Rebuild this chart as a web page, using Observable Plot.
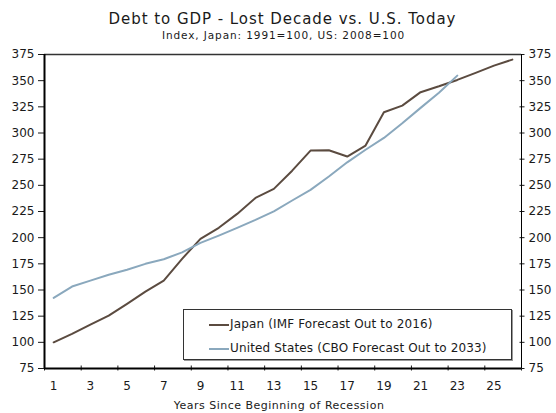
<!DOCTYPE html>
<html><head><meta charset="utf-8">
<script src="https://cdn.jsdelivr.net/npm/d3@7"></script>
<script src="https://cdn.jsdelivr.net/npm/@observablehq/plot@0.6"></script>
<style>
body{margin:0;background:#fff;font-family:"DejaVu Sans",Verdana,sans-serif;color:#1a1a1a;}
#wrap{position:relative;width:556px;height:413px;overflow:hidden;}
#title{position:absolute;left:0;width:565px;top:10px;text-align:center;font-size:15px;line-height:18px;letter-spacing:0.95px;}
#sub{position:absolute;left:0;width:567px;top:29px;text-align:center;font-size:10.5px;line-height:13px;letter-spacing:0.9px;}
#chart{position:absolute;left:0;top:43px;}
#legend{position:absolute;left:183px;top:309px;width:327px;height:49px;border:1px solid #333;background:#fff;box-shadow:1px 1px 0 #999;}
.item{position:absolute;left:25px;font-size:12px;line-height:14px;white-space:nowrap;letter-spacing:0.15px;}
.sw{display:inline-block;width:20px;height:2px;vertical-align:middle;margin-right:1px;}
</style></head>
<body>
<div id="wrap">
<div id="title"></div>
<div id="sub"></div>
<div id="chart"></div>
<div id="legend"></div>
</div>
<script>
const titleText = "Debt to GDP - Lost Decade vs. U.S. Today";
const subtitleText = "Index, Japan: 1991=100, US: 2008=100";
const xTitle = "Years Since Beginning of Recession";
const seriesNames = ["Japan (IMF Forecast Out to 2016)", "United States (CBO Forecast Out to 2033)"];
const seriesColors = ["#5b4b40", "#8aa8bd"];
const years = [1,2,3,4,5,6,7,8,9,10,11,12,13,14,15,16,17,18,19,20,21,22,23,24,25,26];
const japan = [100,108,117,125.6,136.8,148.5,159,179.8,198.9,209.4,222.7,238,246.6,264,283.2,283.5,277.5,288,319.8,326.2,339,344.6,350.7,357.4,364.4,370.1];
const us = [142.5,153.3,159,164.5,169.3,175,179.4,186,195,202,209.4,217,225.2,235.5,245.7,258.4,272,284,295.3,309.3,324,338.4,354.8];
const yTicks = [75,100,125,150,175,200,225,250,275,300,325,350,375];
const xLabels = [1,3,5,7,9,11,13,15,17,19,21,23,25];

document.getElementById("title").textContent = titleText;
document.getElementById("sub").textContent = subtitleText;

const xLo = years[0] - 0.5, xHi = years[years.length-1] + 0.5;
const boundaries = d3.range(xLo, xHi + 0.01, 2);

const jp = years.map((x,i)=>({x, y: japan[i]}));
const usd = us.map((y,i)=>({x: years[i], y}));

const chart = Plot.plot({
  width: 556, height: 370,
  marginTop: 11, marginBottom: 45, marginLeft: 44, marginRight: 35,
  x: {domain: [xLo, xHi]},
  y: {domain: [yTicks[0], yTicks[yTicks.length-1]]},
  style: {fontFamily: "DejaVu Sans, Verdana, sans-serif", fontSize: "12px", color: "#1a1a1a", background: "white", overflow: "visible"},
  marks: [
    Plot.axisY(yTicks, {anchor: "left", tickSize: 6, tickPadding: 4, label: null}),
    Plot.axisY(yTicks, {anchor: "right", tickSize: 5, dx: -2.5, tickFormat: () => "", label: null}),
    Plot.axisY(yTicks, {anchor: "right", tickSize: 0, tickPadding: 7, label: null}),
    Plot.axisX(boundaries, {anchor: "bottom", tickSize: 5, dy: -2.5, tickFormat: () => "", label: null}),
    Plot.axisX(xLabels, {anchor: "bottom", tickSize: 0, tickPadding: 13, label: null}),
    Plot.ruleY([yTicks[yTicks.length-1]], {stroke: "#333", strokeWidth: 1.5}),
    Plot.ruleX([xHi], {stroke: "#000", strokeWidth: 1}),
    Plot.line(jp, {x: "x", y: "y", stroke: seriesColors[0], strokeWidth: 2}),
    Plot.line(usd, {x: "x", y: "y", stroke: seriesColors[1], strokeWidth: 2}),
    Plot.ruleX([xLo], {stroke: "#000", strokeWidth: 2}),
    Plot.ruleY([yTicks[0]], {stroke: "#000", strokeWidth: 2}),
    Plot.text([xTitle], {frameAnchor: "bottom", dy: 40, dx: -4, fontSize: 11, fill: "#1a1a1a", style: "letter-spacing:0.5px"})
  ]
});
chart.querySelectorAll("text").forEach(t => { if (t.textContent === xTitle) t.setAttribute("letter-spacing", "0.5"); });
document.getElementById("chart").appendChild(chart);

const leg = document.getElementById("legend");
seriesNames.forEach((name, i) => {
  const d = document.createElement("div");
  d.className = "item";
  d.style.top = (7 + i*24.4) + "px";
  const s = document.createElement("span");
  s.className = "sw"; s.style.background = seriesColors[i];
  d.appendChild(s);
  d.appendChild(document.createTextNode(name));
  leg.appendChild(d);
});
</script>
</body></html>
